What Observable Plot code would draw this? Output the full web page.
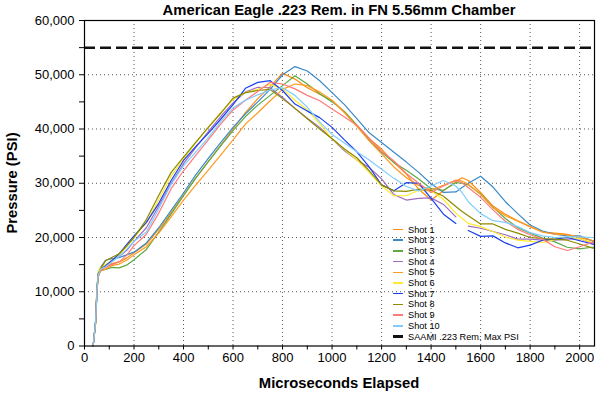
<!DOCTYPE html>
<html>
<head>
<meta charset="utf-8">
<script src="https://cdn.jsdelivr.net/npm/d3@7"></script>
<script src="https://cdn.jsdelivr.net/npm/@observablehq/plot@0.6"></script>
<style>
  html, body { margin: 0; padding: 0; background: #fff; }
  #wrap { position: relative; width: 611px; height: 396px; background: #fff; overflow: hidden;
          font-family: "Liberation Sans", Arial, Helvetica, sans-serif; color: #000; }
  #chart { position: absolute; left: 0; top: 0; }
  .ttl { position: absolute; font-weight: bold; font-size: 14.8px; line-height: 16px; text-align: center; white-space: nowrap; }
  .leg { position: absolute; font-size: 9.2px; line-height: 10px; height: 10px; white-space: nowrap; }
  .legline { position: absolute; }
</style>
</head>
<body>
<div id="wrap">
  <div id="chart"></div>
</div>
<script>
// ---- data ----
const time = [35, 45, 50, 55, 65, 85, 110, 140, 170, 200,
  250, 300, 350, 400, 450, 500, 550, 600, 650, 700, 750, 800, 850, 900, 950,
  1000, 1050, 1100, 1150, 1200, 1250, 1300, 1350, 1400, 1450, 1500, 1525,
  1550, 1600, 1650, 1700, 1750, 1800, 1850, 1900, 1950, 2000, 2050, 2060];

const shot1 = [0, 4400, 9900, 12900, 14000, 14500, 15200, 15500, 16200, 17200,
  18800, 21500, 24600, 27800, 31000, 34000, 37000, 40000, 43000, 45600, 47800, 50300, 49200, 47600, 46400,
  45200, 43200, 40700, 38200, 36300, 33800, 31700, 28900, 26900, 28600, 30300, 31000,
  30500, 28300, 25800, 24300, 23100, 22000, 21000, 20800, 20600, 20000, 19400, 19300];
const shot2 = [0, 4500, 10000, 13000, 14500, 15800, 16100, 16300, 16800, 17300,
  19000, 21800, 25000, 28200, 31600, 34600, 37500, 40300, 42800, 45000, 47300, 50000, 51500, 50700, 48900,
  46700, 44500, 41900, 39300, 37500, 35700, 33900, 32000, 29900, 28300, 28400, 29200,
  30000, 31300, 29300, 26600, 24400, 22300, 21200, 20600, 20300, 20300, 19400, 19100];
const shot3 = [0, 4300, 9800, 12800, 13900, 14100, 14500, 14400, 14900, 15900,
  17800, 21000, 24300, 27700, 31000, 34000, 36900, 39700, 42300, 44400, 46200, 48000, 49800, 48300, 46500,
  45000, 43200, 40700, 37900, 35700, 33800, 32400, 30800, 29000, 28700, 30100, 30000,
  29700, 28000, 25600, 23500, 21800, 20800, 19900, 19200, 18200, 17900, 18200, 18200];
const shot4 = [0, 4500, 10000, 13200, 14300, 14800, 15800, 16500, 17600, 19300,
  21800, 25800, 30000, 33600, 36600, 39500, 42300, 44800, 46800, 47700, 47600, 45800, 43800, 42000, 40300,
  38200, 36000, 34300, 32900, 30800, 27900, 26900, 27200, 27300, 26100, 23800, null,
  22100, 21700, 21100, 20500, 19700, 19700, 19500, 19500, 19700, 19800, 18900, 18800];
const shot5 = [0, 4200, 9600, 12700, 13800, 14200, 14800, 15100, 15800, 16800,
  18300, 20800, 23800, 26900, 29700, 32400, 35200, 38000, 40900, 43000, 45200, 47300, 48300, 48000, 46800,
  45300, 43000, 40500, 37800, 35400, 33000, 31000, 29600, 28800, 29600, 30600, 30400,
  29800, 27900, 25500, 24000, 23000, 22000, 21000, 20600, 20500, 20100, 19500, 19400];
const shot6 = [0, 5000, 10800, 13800, 14500, 15000, 15800, 16800, 18300, 20000,
  22700, 27000, 31300, 34500, 37500, 40300, 43000, 45400, 46700, 47300, 48200, 47400, 45300, 43500, 41000,
  38200, 36200, 34300, 32000, 29500, 27700, 27700, 28700, 28600, 27000, 24500, 23500,
  22600, 22000, 21100, 20100, 19500, 19300, 19100, 19600, 20000, 19800, 19100, 19000];
const shot7 = [0, 4700, 10300, 13300, 14000, 14800, 15700, 17000, 18700, 20300,
  22800, 26300, 30500, 34200, 36800, 39200, 41800, 44500, 47500, 48600, 48900, 47100, 44600, 43300, 42100,
  40300, 38000, 35800, 33000, 29700, 28600, 30100, 30000, 27200, 24300, 22600, null,
  21300, 20200, 20300, 19000, 18100, 18600, 19500, 19700, 20000, 19400, 18800, 18700];
const shot8 = [0, 4500, 10000, 13000, 14300, 15700, 16300, 17000, 18400, 20000,
  23300, 27800, 32000, 34800, 37600, 40300, 42900, 45700, 46700, 47100, 47300, 45600, 43800, 41900, 40000,
  38200, 36300, 34700, 32300, 29700, 28600, 28500, 28900, 28700, 27600, 25700, 24800,
  24000, 22500, 22500, 21500, 20800, 20000, 19800, 19700, 19500, 18800, 18100, 18000];
const shot9 = [0, 4300, 9800, 12800, 14000, 14500, 15000, 15500, 16700, 18500,
  20600, 24500, 29000, 32300, 35200, 38000, 40900, 43500, 45300, 46900, 48600, 48300, 47400, 46200, 45200,
  43700, 42200, 40700, 38300, 35900, 34100, 31800, 30000, 28300, 29500, 30500, 30100,
  29200, 27400, 25100, 23000, 21500, 20500, 19700, 18300, 17600, 18300, 19100, 19200];
const shot10 = [0, 4500, 10000, 13000, 14200, 14600, 15500, 16500, 17800, 19300,
  21000, 25300, 29800, 33200, 35800, 38400, 41300, 43900, 45300, 46300, 47200, 47600, 46200, 44000, 41300,
  39000, 37400, 35800, 34300, 32600, 30900, 29400, 28600, 29500, 30500, 29500, 28300,
  26600, 24400, 23100, 22800, 22000, 20900, 20300, 20000, 20100, 20100, 20000, 20000];

const shotNames = ["Shot 1", "Shot 2", "Shot 3", "Shot 4", "Shot 5", "Shot 6", "Shot 7", "Shot 8", "Shot 9", "Shot 10"];
const shotValues = [shot1, shot2, shot3, shot4, shot5, shot6, shot7, shot8, shot9, shot10];
const shotColors = ["#ff8c0f", "#3a89c9", "#5aab46", "#a06cc4", "#ff9a1f", "#ffea2e", "#1a3ff0", "#8c8a00", "#ff7a78", "#7fcdff"];

const saamiLabel = "SAAMI .223 Rem. Max PSI";
const saamiMax = [55000];

const xTicks = d3.range(0, 2001, 100);
const yTicks = d3.range(0, 60001, 5000);
const xGrid = d3.range(200, 2001, 200);
const yGrid = d3.range(10000, 50001, 10000);

const titleText = "American Eagle .223 Rem. in FN 5.56mm Chamber";
const xLabel = "Microseconds Elapsed";
const yLabel = "Pressure (PSI)";

// ---- build table ----
const rows = [];
shotNames.forEach((name, s) => {
  time.forEach((t, i) => rows.push({shot: name, t, p: shotValues[s][i]}));
});

const W = 611, H = 396;
const mL = 84, mR = 17, mT = 20, mB = 50.5;
const fmtY = d3.format(",");

const chart = Plot.plot({
  width: W, height: H,
  marginLeft: mL, marginRight: mR, marginTop: mT, marginBottom: mB,
  style: {fontFamily: '"Liberation Sans", Arial, Helvetica, sans-serif', fontSize: "13px", color: "#000", background: "#fff"},
  x: {domain: [0, 2060], label: null},
  y: {domain: [0, 60000], label: null},
  color: {domain: shotNames, range: shotColors},
  marks: [
    Plot.gridX(xGrid, {stroke: "#555", strokeOpacity: 1, strokeWidth: 1, strokeDasharray: "1,3"}),
    Plot.gridY(yGrid, {stroke: "#555", strokeOpacity: 1, strokeWidth: 1, strokeDasharray: "1,3"}),
    Plot.ruleY(saamiMax, {stroke: "#111", strokeWidth: 2.5, strokeDasharray: "11,5"}),
    Plot.line(rows, {x: "t", y: "p", z: "shot", stroke: "shot", strokeWidth: 1.2, curve: "linear"}),
    Plot.axisX(xTicks, {tickSize: 4, tickPadding: 3, stroke: "#000",
      tickFormat: d => d % 200 === 0 ? String(d) : ""}),
    Plot.axisY(yTicks, {tickSize: 5, tickPadding: 5, stroke: "#000",
      tickFormat: d => d % 10000 === 0 ? fmtY(d) : ""}),
    Plot.frame({stroke: "#000", strokeWidth: 1.2})
  ]
});

const wrap = document.getElementById("wrap");
document.getElementById("chart").appendChild(chart);

const plotL = mL, plotR = W - mR, plotC = (plotL + plotR) / 2;

function addText(txt, cls, css) {
  const d = document.createElement("div");
  d.className = cls;
  d.textContent = txt;
  Object.assign(d.style, css);
  wrap.appendChild(d);
  return d;
}
// title
addText(titleText, "ttl", {left: (plotC - 250) + "px", width: "500px", top: "2px"});
// x label
addText(xLabel, "ttl", {left: (plotC - 200) + "px", width: "400px", top: "375px"});
// y label (rotated)
const yc = (mT + (H - mB)) / 2;
addText(yLabel, "ttl", {left: (12 - 150) + "px", width: "300px", top: (yc - 8) + "px", transform: "rotate(-90deg)"});

// legend (inside plot, lower right)
const legX = 393, legTop = 229.5, legStep = 10.7;
const legItems = shotNames.map((n, i) => ({name: n, color: shotColors[i], w: 1.5}));
legItems.push({name: saamiLabel, color: "#111", w: 2.5});
legItems.forEach((it, i) => {
  const cy = legTop + i * legStep;
  const ln = document.createElement("div");
  ln.className = "legline";
  Object.assign(ln.style, {left: legX + "px", width: "10px", top: (cy - it.w / 2) + "px",
    height: it.w + "px", background: it.color});
  wrap.appendChild(ln);
  addText(it.name, "leg", {left: (legX + 15) + "px", top: (cy - 5) + "px"});
});
</script>
</body>
</html>
